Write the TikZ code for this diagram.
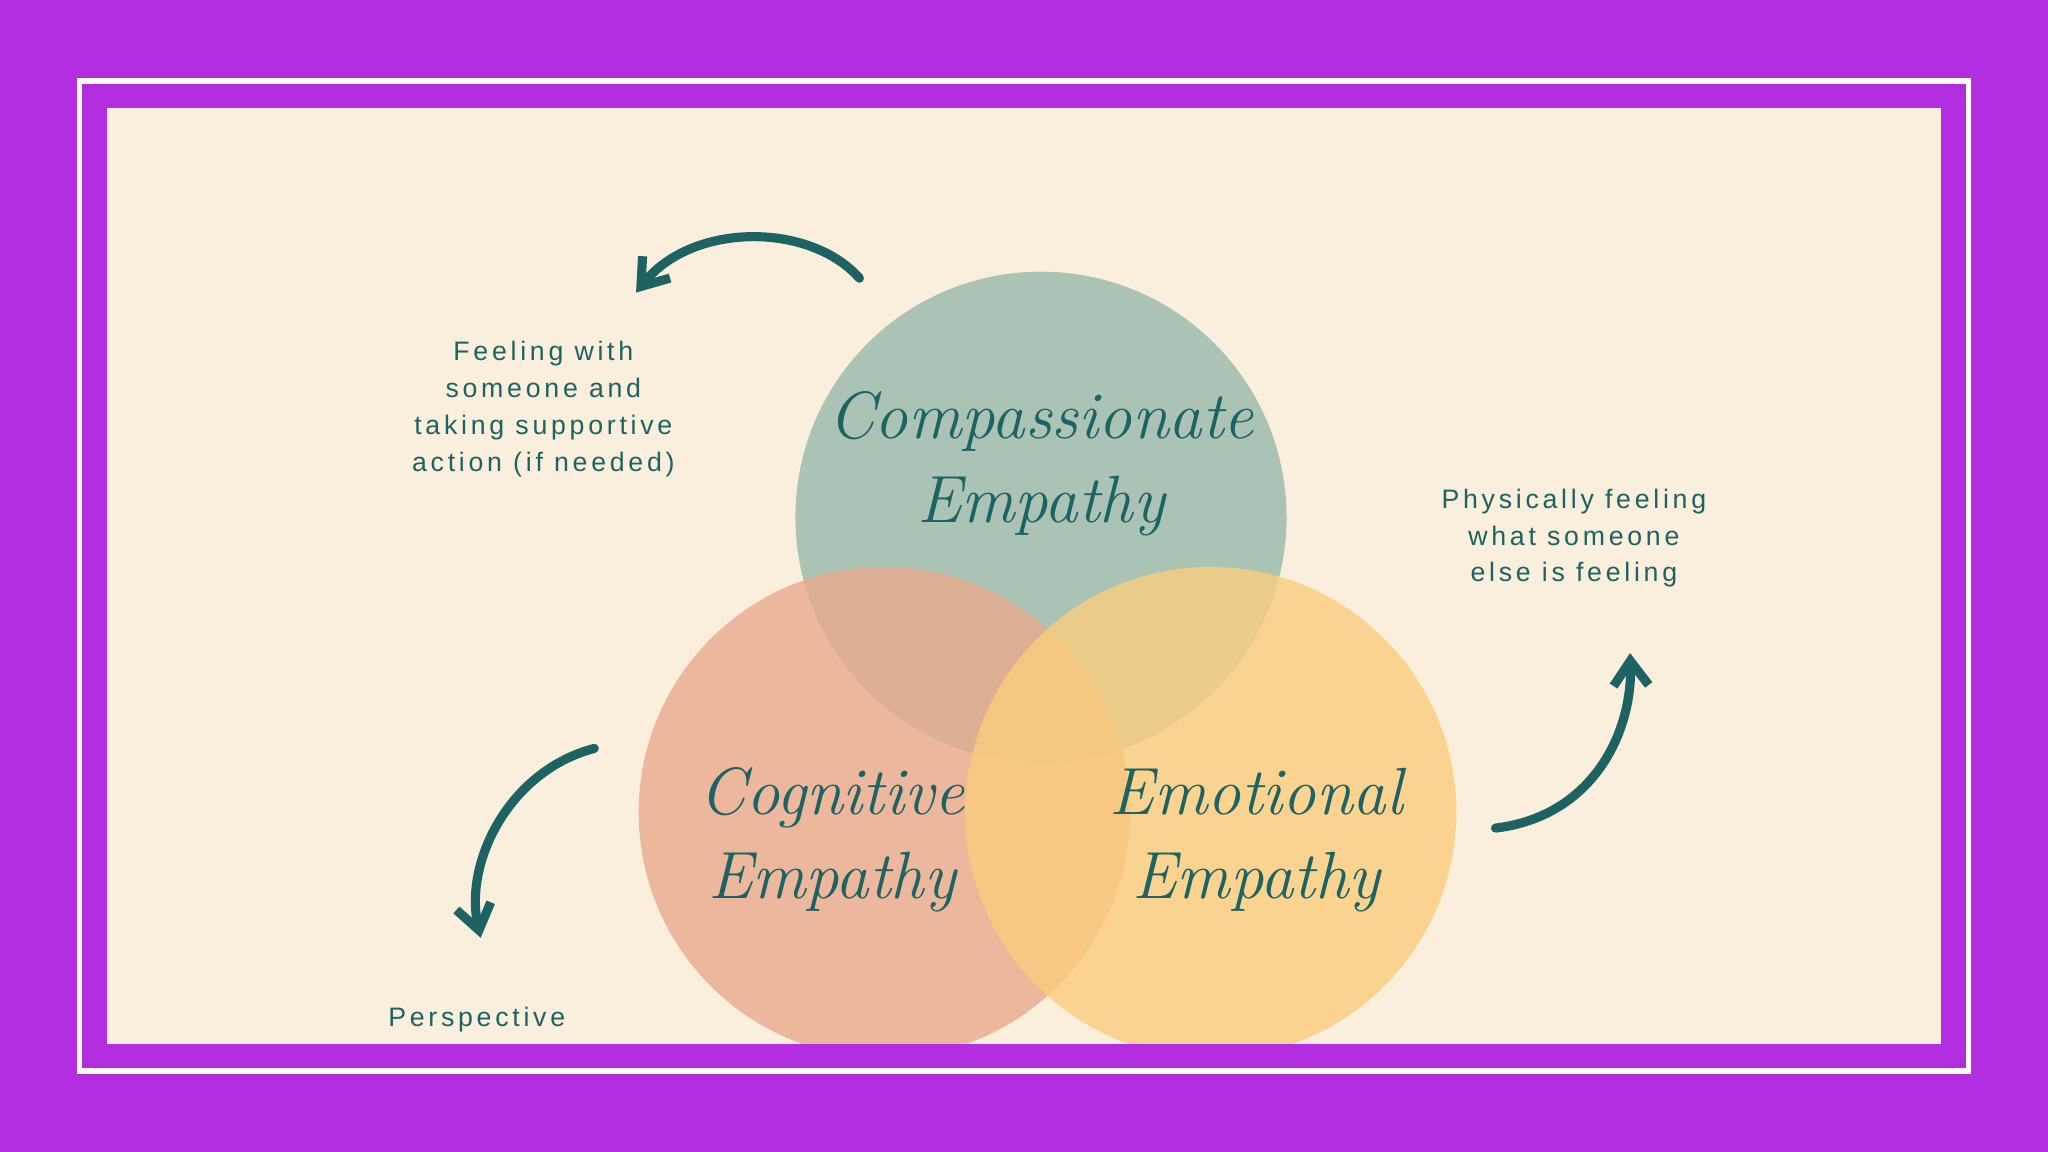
\documentclass[tikz,border=0pt]{standalone}
\usepackage{fontspec}
\newfontfamily\lab[LetterSpace=14]{Liberation Sans}
\usetikzlibrary{arrows.meta}
\definecolor{purp}{RGB}{178,46,224}
\definecolor{cream}{RGB}{250,238,221}
\definecolor{tealc}{RGB}{30,99,99}
\definecolor{cgreen}{RGB}{150,185,170}
\definecolor{cpeach}{RGB}{233,170,140}
\definecolor{cyell}{RGB}{250,205,125}
\tikzset{
  lbl/.style={text=tealc,font=\lab\fontsize{7.6}{10.5}\selectfont,align=center},
  scr/.style={text=tealc,font=\itshape\fontsize{19}{24}\selectfont,align=center},
  arr/.style={draw=tealc,line width=2.6pt,line cap=round,-{Straight Barb[length=7pt,width=10pt,line width=2.6pt]}},
  circ/.style={circle,minimum size=376*0.013061cm,inner sep=0pt,fill opacity=0.8}
}
\begin{document}
\begin{tikzpicture}[x=0.013061cm,y=-0.013061cm]
\fill[purp] (0,0) rectangle (1568,882);
\useasboundingbox (0,0) rectangle (1568,882);
\draw[white,line width=1.5pt] (61,62) rectangle (1507,820);
\fill[cream] (82,83) rectangle (1486,799);
\begin{scope}
\clip (82,83) rectangle (1486,799);
\node[circ,fill=cgreen] (cc) at (797,396) {};
\node[circ,fill=cpeach] (cg) at (677,622) {};
\node[circ,fill=cyell] (em) at (927,622) {};
\end{scope}
\node[scr] (t1) at (797,355) {Compassionate\\Empathy};
\node[scr] (t2) at (637,643) {Cognitive\\Empathy};
\node[scr] (t3) at (962,643) {Emotional\\Empathy};
\node[lbl] (l1) at (416,313) {Feeling with\\someone and\\taking supportive\\action (if needed)};
\node[lbl] (l2) at (1205,412) {Physically feeling\\what someone\\else is feeling};
\node[lbl] (l3) at (365,781) {Perspective};
\coordinate (a1s) at (658,213); \coordinate (a1e) at (487,224);
\coordinate (a2s) at (455,573); \coordinate (a2e) at (368,718);
\coordinate (a3s) at (1145,634); \coordinate (a3e) at (1248,500);
\draw[arr] (a1s) .. controls (620,170) and (530,170) .. (a1e);
\draw[arr] (a2s) .. controls (390,590) and (355,660) .. (a2e);
\draw[arr] (a3s) .. controls (1220,625) and (1250,560) .. (a3e);
\end{tikzpicture}
\end{document}
